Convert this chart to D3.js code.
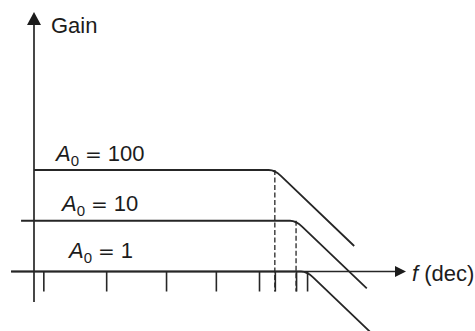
<!DOCTYPE html>
<html>
<head>
<meta charset="utf-8">
<script src="https://cdn.jsdelivr.net/npm/d3@7"></script>
<style>
  html, body { margin: 0; padding: 0; background: #fff; }
  svg { display: block; }
  text { font-family: "Liberation Sans", Arial, Helvetica, sans-serif; fill: #1c1c1c; }
</style>
</head>
<body>
<svg id="chart" width="475" height="331"></svg>
<script>
// Open-loop gain levels of the amplifier stages and their break frequencies
const gainLevels   = [100, 10, 1];
const gainLabels   = ["100", "10", "1"];
const cornerFreqs  = [35000, 88000, 142000];
const lineStarts   = [1, 0.57, 0.37];
const lineEnds     = [1.1e6, 1.9e6, 5e6];
// Decade tick marks along the frequency axis
const tickFreqs    = [1.5, 23, 310, 2700, 17600, 35000, 88000, 142000];

const ink = "#262626";
const svg = d3.select("#chart");

const x = d3.scaleLog().domain([1, 1e7]).range([34, 405]);
const y = d3.scaleLog().domain([1, 100]).range([271.5, 170]);

const axisLeftEnd = 11, axisRightEnd = 406, axisTop = 12, axisBottom = 302;
const tickLen = 20;
const y0 = y(1), xA = x(1);

// Frequency axis line with arrow head
svg.append("line")
  .attr("x1", axisLeftEnd).attr("x2", axisRightEnd - 8)
  .attr("y1", y0).attr("y2", y0)
  .attr("stroke", ink).attr("stroke-width", 1.7);
svg.append("path")
  .attr("d", `M${axisRightEnd},${y0} L${axisRightEnd - 11},${y0 - 5.5} L${axisRightEnd - 11},${y0 + 5.5} Z`)
  .attr("fill", "#1c1c1c");

// Gain axis line with arrow head
svg.append("line")
  .attr("x1", xA).attr("x2", xA)
  .attr("y1", axisBottom).attr("y2", axisTop + 8)
  .attr("stroke", ink).attr("stroke-width", 1.7);
svg.append("path")
  .attr("d", `M${xA},${axisTop} L${xA - 7},${axisTop + 13} L${xA + 7},${axisTop + 13} Z`)
  .attr("fill", "#1c1c1c");

// Decade ticks hanging below the frequency axis
const axisG = svg.append("g")
  .attr("transform", `translate(0,${y0})`)
  .call(d3.axisBottom(x).tickValues(tickFreqs).tickSize(tickLen).tickFormat(""));
axisG.select(".domain").remove();
axisG.selectAll(".tick line").attr("stroke", ink).attr("stroke-width", 1.6);

// Dashed drop lines at the break frequencies
svg.append("g").selectAll("line")
  .data(gainLevels.map((g, i) => ({ g, fc: cornerFreqs[i] })).filter(d => d.g > 1))
  .join("line")
  .attr("x1", d => x(d.fc)).attr("x2", d => x(d.fc))
  .attr("y1", d => y(d.g)).attr("y2", y0 + tickLen)
  .attr("stroke", ink).attr("stroke-width", 1.3)
  .attr("stroke-dasharray", "5,2.5");

// Gain response: flat at A0, rounded knee, then -1 slope per decade
const knee = 1.3;
function responsePath(g, fc, f0, f1) {
  const p = d3.path();
  p.moveTo(x(f0), y(g));
  p.lineTo(x(fc / knee), y(g));
  p.quadraticCurveTo(x(fc), y(g), x(fc * knee), y(g / knee));
  p.lineTo(x(f1), y(g * fc / f1));
  return p.toString();
}
svg.append("g").selectAll("path")
  .data(gainLevels.map((g, i) => ({ g, fc: cornerFreqs[i], f0: lineStarts[i], f1: lineEnds[i] })))
  .join("path")
  .attr("d", d => responsePath(d.g, d.fc, d.f0, d.f1))
  .attr("fill", "none")
  .attr("stroke", ink).attr("stroke-width", 1.8);

// Labels A0 = ...
const labelX  = [56, 62, 69];
const labelDy = [-9, -10, -14];
const labels = svg.append("g").selectAll("text")
  .data(gainLevels.map((g, i) => ({ g, txt: gainLabels[i], lx: labelX[i], dy: labelDy[i] })))
  .join("text")
  .attr("x", d => d.lx)
  .attr("y", d => y(d.g) + d.dy)
  .attr("font-size", 22);
labels.append("tspan").attr("font-style", "italic").text("A");
labels.append("tspan").attr("font-size", 15).attr("dy", 5).text("0");
labels.append("tspan").attr("dy", -5).attr("dx", 6)
  .style("font-family", "'DejaVu Sans', sans-serif").attr("font-size", 20).text("=");
labels.append("tspan").attr("dx", 6).text(d => d.txt);

// Axis titles
svg.append("text").attr("x", 51).attr("y", 33).attr("font-size", 22).text("Gain");
const ft = svg.append("text").attr("x", 412).attr("y", y0 + 9).attr("font-size", 22);
ft.append("tspan").attr("font-style", "italic").text("f");
ft.append("tspan").text(" (dec)");
</script>
</body>
</html>
